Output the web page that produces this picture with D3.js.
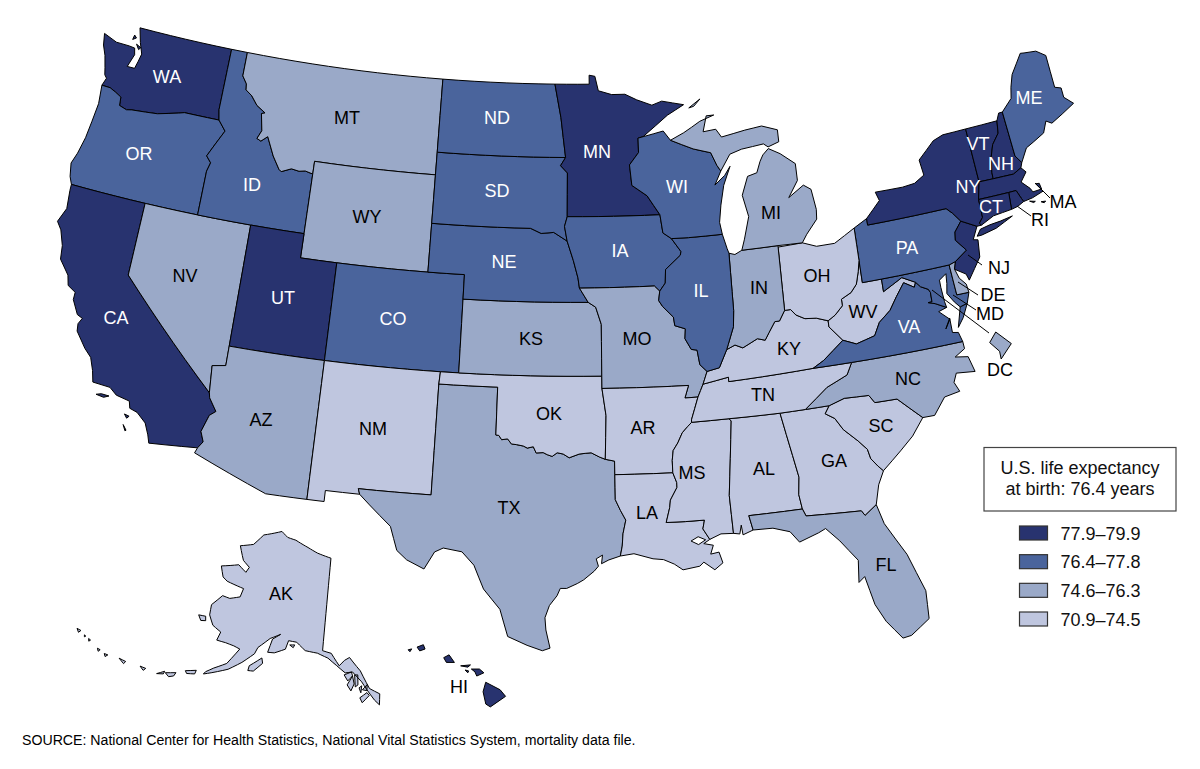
<!DOCTYPE html>
<html><head><meta charset="utf-8">
<script src="https://cdn.jsdelivr.net/npm/d3@7/dist/d3.min.js"></script>
<style>html,body{margin:0;padding:0;background:#fff}svg{display:block}text{font-family:"Liberation Sans",Arial,sans-serif}</style>
</head><body><svg id="c" width="1200" height="769"></svg>
<script>
const legendLabels=["77.9–79.9","76.4–77.8","74.6–76.3","70.9–74.5"];
const legendColors=["#28336f","#4a649c","#9aa9c8","#bfc6df"];
const class0=["WA","CA","UT","MN","NY","VT","NH","MA","CT","RI","NJ","HI"];
const class1=["OR","ID","CO","ND","SD","NE","IA","WI","IL","PA","VA","MD","ME"];
const class2=["MT","WY","NV","AZ","KS","MO","TX","IN","MI","NC","FL","DE","DC"];
const class3=["NM","OK","AR","LA","MS","AL","GA","SC","TN","KY","WV","OH","AK"];
const noteTitle=["U.S. life expectancy","at birth: 76.4 years"];
const sourceNote="SOURCE: National Center for Health Statistics, National Vital Statistics System, mortality data file.";

// shared borders, longitude,latitude
const rev=s=>s.split(" ").reverse().join(" ");
const idMt="-111.05,44.47 -111.5,44.55 -111.85,44.5 -112.3,44.55 -112.85,44.37 -113,44.45 -113.45,44.95 -113.95,45.7 -114.3,45.47 -114.55,45.55 -114.35,45.9 -114.55,46.6 -114.35,46.65 -114.9,46.9 -115.3,47.25 -115.7,47.45 -115.75,47.7 -116.05,48";
const red="-100,34.56 -99.85,34.55 -99.7,34.38 -99.4,34.42 -99.2,34.22 -98.95,34.2 -98.6,34.15 -98.4,34.07 -98.1,34.13 -97.95,33.88 -97.6,33.9 -97.4,33.82 -97.15,33.75 -96.9,33.9 -96.6,33.85 -96.3,33.7 -95.8,33.85 -95.5,33.88 -95.2,33.9 -94.8,33.73 -94.5,33.63";
const m1="-91.42,40.38 -91.5,40 -91.3,39.75 -90.75,39.3 -90.7,38.95 -90.15,38.8 -90.2,38.4 -89.9,37.95 -89.6,37.9 -89.5,37.3 -89.15,37";
const m2="-89.15,37 -89.3,36.7 -89.4,36.5 -89.55,36.25 -89.7,36";
const m3="-89.7,36 -89.9,35.55 -90.1,35.1 -90.1,35";
const m4="-90.1,35 -90.3,34.85 -90.6,34.6 -90.85,34.2 -91.1,33.9 -91.17,33.5 -91.17,33";
const m5="-91.17,33 -91,32.6 -91,32.4 -91.35,31.9 -91.4,31.6 -91.6,31";
const ohio="-82.6,38.42 -83.2,38.6 -83.8,38.65 -84.25,38.85 -84.5,39.1 -84.82,39.1 -85.15,38.7 -85.4,38.7 -85.75,38.3 -86,38 -86.4,38.1 -86.8,37.95 -87.2,37.8 -87.6,37.95 -88.05,37.8";
const ohioLow="-82.6,38.42 -82.2,38.6 -81.75,38.93 -81.75,39.2 -81.2,39.4 -80.85,39.7 -80.65,40.2 -80.52,40.64";
const potomac="-76.35,38.05 -76.9,38.3 -77.25,38.4 -77.05,38.4 -77.04,38.79 -77.12,38.93 -77.5,39.1 -77.72,39.32";
const savannah="-83.1,35 -83.35,34.7 -82.9,34.45 -82.55,33.95 -81.9,33.4 -81.5,33 -81.4,32.6 -81.1,32.25 -80.87,32.03";

// state outlines, longitude,latitude
const outlines={
WA:["-124.73,48.38 -123.9,48.16 -123.1,48.15 -122.75,48.12 -122.65,47.85 -122.9,47.3 -122.45,47.3 -122.35,47.6 -122.25,47.95 -122.5,48.4 -122.75,49 -117.03,49 -117.04,46.42 -116.92,46 -118.98,46 -119.3,45.93 -120.5,45.7 -121.2,45.65 -122,45.6 -122.3,45.55 -122.75,45.65 -122.8,46 -123.2,46.15 -123.55,46.26 -124.05,46.27 -123.9,46.6 -124.05,46.72 -124.15,47 -124.35,47.5 -124.6,47.9","-122.95,48.65 -122.8,48.55 -123,48.45","-122.7,48.3 -122.5,48.1 -122.4,48.2"],
OR:["-124.05,46.27 -123.55,46.26 -123.2,46.15 -122.8,46 -122.75,45.65 -122.3,45.55 -122,45.6 -121.2,45.65 -120.5,45.7 -119.3,45.93 -118.98,46 -116.92,46 -116.45,45.6 -116.85,45 -117.2,44.45 -116.9,44.2 -117.03,43.83 -117.03,42 -120,42 -124.21,42 -124.4,42.3 -124.55,42.84 -124.35,43.3 -124.15,44 -124.05,44.7 -123.95,45.5"],
CA:["-124.21,42 -120,42 -120,39 -114.63,35 -114.57,34.8 -114.14,34.3 -114.43,34.1 -114.7,33.4 -114.5,33 -114.72,32.72 -117.12,32.53 -117.25,32.85 -117.5,33.3 -118,33.65 -118.4,33.75 -118.5,34.03 -119.2,34.15 -119.6,34.4 -120.5,34.45 -120.65,34.9 -120.9,35.4 -121.3,35.7 -121.9,36.3 -121.95,36.6 -121.8,36.85 -122.1,36.95 -122.5,37.5 -122.5,37.8 -122.95,38 -123.1,38.4 -123.7,38.95 -123.8,39.5 -124.1,40.1 -124.4,40.4 -124.1,41 -124.2,41.75","-120.2,34 -119.95,34.07 -119.55,34.05 -119.8,33.95","-118.6,33.48 -118.35,33.43 -118.45,33.33","-118.55,33.05 -118.35,32.85 -118.4,32.82"],
NV:["-120,42 -117.03,42 -114.04,42 -114.05,37 -114.05,36.2 -114.74,36.1 -114.63,35 -120,39"],
ID:[`-117.03,42 -114.04,42 -111.05,42 ${idMt} -116.05,49 -117.03,49 -117.04,46.42 -116.92,46 -116.45,45.6 -116.85,45 -117.2,44.45 -116.9,44.2 -117.03,43.83`],
MT:[`-116.05,49 -104.05,49 -104.05,45.94 -104.05,45 -111.05,45 ${idMt}`],
WY:["-111.05,45 -104.05,45 -104.05,43 -104.05,41 -109.05,41 -111.05,41 -111.05,42 -111.05,44.47"],
UT:["-114.04,42 -111.05,42 -111.05,41 -109.05,41 -109.05,37 -114.05,37"],
CO:["-109.05,41 -104.05,41 -102.05,41 -102.05,40 -102.05,37 -103,37 -109.05,37"],
AZ:["-114.05,37 -109.05,37 -109.05,31.33 -111.07,31.33 -114.82,32.5 -114.72,32.72 -114.5,33 -114.7,33.4 -114.43,34.1 -114.14,34.3 -114.57,34.8 -114.63,35 -114.74,36.1 -114.05,36.2"],
NM:["-109.05,37 -103,37 -103.04,36.5 -103.05,32 -106.62,32 -106.53,31.78 -108.21,31.78 -108.21,31.33 -109.05,31.33"],
TX:[`-103.04,36.5 -100,36.5 ${red} -94.04,33.55 -94.04,33 -94.04,31.99 -93.8,31.55 -93.55,31.15 -93.7,30.6 -93.75,30.1 -93.85,29.7 -94.4,29.55 -94.75,29.4 -94.7,29.75 -95,29.6 -94.9,29.3 -95.1,29.1 -95.6,28.75 -95.9,28.6 -96.4,28.4 -96.7,28.4 -96.85,28.1 -97.2,27.7 -97.4,27.2 -97.35,26.7 -97.15,25.96 -97.5,25.85 -98.2,26.06 -99.1,26.4 -99.5,27.5 -100.3,28.3 -100.8,29.25 -101.4,29.77 -102.3,29.88 -102.7,29.7 -103.15,28.98 -104,29.3 -104.5,29.65 -104.9,30.6 -106,31.39 -106.53,31.78 -106.62,32 -103.05,32`],
OK:[`-103,37 -102.05,37 -94.62,37 -94.62,36.5 -94.43,35.4 ${rev(red)} -100,36.5 -103.04,36.5`],
KS:["-102.05,40 -95.3,40 -94.9,39.8 -94.61,39.1 -94.62,37 -102.05,37"],
NE:["-104.05,43 -98.5,43 -97.9,42.8 -97.2,42.85 -96.45,42.5 -96.1,41.7 -95.85,41 -95.77,40.58 -95.3,40 -102.05,40 -102.05,41 -104.05,41"],
SD:["-104.05,45.94 -96.56,45.94 -96.85,45.6 -96.45,45.3 -96.45,43.5 -96.6,43.1 -96.45,42.5 -97.2,42.85 -97.9,42.8 -98.5,43 -104.05,43"],
ND:["-104.05,49 -97.23,49 -96.85,47.6 -96.56,45.94 -104.05,45.94"],
MN:["-97.23,49 -95.15,49 -95.15,49.38 -94.8,49.33 -94.6,48.72 -93.8,48.55 -93,48.55 -92.3,48.3 -91.4,48.05 -90.8,48.2 -89.5,48 -90.5,47.6 -92,46.75 -92.3,46.7 -92.3,46.1 -92.85,45.6 -92.75,44.75 -91.9,44.3 -91.22,43.5 -96.45,43.5 -96.45,45.3 -96.85,45.6 -96.56,45.94 -96.85,47.6"],
IA:["-96.45,43.5 -91.22,43.5 -91.1,42.75 -90.64,42.5 -90.15,41.95 -90.2,41.8 -91.05,41.25 -91.1,40.7 -91.42,40.38 -91.7,40.6 -95.77,40.58 -95.85,41 -96.1,41.7 -96.45,42.5 -96.6,43.1"],
MO:[`-95.77,40.58 -91.7,40.6 ${m1} ${m2} -90.37,36 -90.15,36.5 -94.62,36.5 -94.62,37 -94.61,39.1 -94.9,39.8 -95.3,40`],
AR:[`-94.62,36.5 -90.15,36.5 -90.37,36 ${m3} ${m4} -94.04,33 -94.04,33.55 -94.5,33.63 -94.43,35.4`],
LA:[`-94.04,33 ${m5} -89.75,31 -89.85,30.65 -89.55,30.2 -89.85,30.05 -89.4,29.95 -89.55,29.6 -89.15,29.65 -89,29.2 -89.4,28.95 -89.9,29.3 -90.1,29.15 -90.9,29.05 -91.3,29.3 -91.8,29.5 -92.3,29.55 -93.2,29.78 -93.85,29.7 -93.75,30.1 -93.7,30.6 -93.55,31.15 -93.8,31.55 -94.04,31.99`],
MS:[`-90.1,35 -88.2,35 -88.1,34.9 -88.47,31.9 -88.4,30.35 -89,30.38 -89.55,30.2 -89.85,30.65 -89.75,31 ${rev(m5)} ${rev(m4)}`],
AL:["-88.2,35 -85.61,34.98 -85.2,33.2 -85,32.3 -85.1,31.6 -85,31 -87.6,31 -87.45,30.4 -87.95,30.25 -88,30.65 -88.1,30.3 -88.4,30.35 -88.47,31.9 -88.1,34.9"],
GA:[`-85.61,34.98 ${savannah} -81.2,31.5 -81.45,30.72 -82.05,30.36 -82.2,30.57 -84.86,30.7 -85,31 -85.1,31.6 -85,32.3 -85.2,33.2`],
FL:["-87.6,31 -85,31 -84.86,30.7 -82.2,30.57 -82.05,30.36 -81.45,30.72 -81.2,29.9 -80.35,28.5 -79.75,26.9 -79.8,25.75 -80.7,25.2 -81.1,25.15 -81.75,25.95 -82.15,26.7 -82.45,27.9 -82.75,27.7 -82.65,28.6 -83.4,29.5 -84,30.08 -84.35,29.95 -85.3,29.68 -85.7,30.15 -86.5,30.38 -87.45,30.4"],
SC:[`-82.3,35.2 -81.05,35.15 -80.8,34.82 -79.67,34.8 -78.55,33.86 -79.2,33.2 -79.9,32.7 ${rev(savannah)}`],
NC:["-84.32,34.99 -83.1,35 -82.3,35.2 -81.05,35.15 -80.8,34.82 -79.67,34.8 -78.55,33.86 -77.95,33.85 -77.3,34.5 -76.5,34.6 -76.7,35 -76.5,35.35 -75.55,35.25 -75.75,35.9 -76.4,36 -75.85,36.25 -75.87,36.55 -81.68,36.59 -82,36.12 -83.1,35.75"],
TN:[`-90.1,35 -88.2,35 -85.61,34.98 -84.32,34.99 -83.1,35.75 -82,36.12 -81.68,36.59 -83.68,36.6 -88.07,36.5 -88.07,36.68 -89.4,36.5 -89.55,36.25 -89.7,36 -89.9,35.55 -90.1,35.1`],
KY:[`-89.4,36.5 -88.07,36.68 -88.07,36.5 -83.68,36.6 -83.1,36.85 -81.97,37.54 -82.6,38.17 ${ohio} -88.5,37.1 -89.15,37 -89.3,36.7`],
WV:[`-81.97,37.54 -81.3,37.3 -80.3,37.5 -79.95,38 -79.3,38.4 -78.85,38.9 -78.35,39.4 -77.83,39.13 -77.72,39.32 -78.4,39.62 -79.48,39.2 -79.48,39.72 -80.52,39.72 ${rev(ohioLow)} -82.6,38.17`],
VA:[`-83.68,36.6 -81.68,36.59 -75.87,36.55 -76,36.95 -76.3,37 -76.3,37.6 -76.6,37.2 -76.3,37.55 -76.8,37.95 ${potomac} -77.83,39.13 -78.35,39.4 -78.85,38.9 -79.3,38.4 -79.95,38 -80.3,37.5 -81.3,37.3 -81.97,37.54 -83.1,36.85`,"-75.95,37.15 -75.6,37.5 -75.25,38.03 -75.65,37.95"],
MD:[`-79.48,39.72 -75.79,39.72 -75.7,38.46 -75.05,38.45 -75.25,38.03 -75.65,37.95 -75.9,38.2 -76.2,38.6 -76.1,39 -76.05,39.4 -76.45,39.2 -76.45,38.9 -76.4,38.3 ${potomac} -78.4,39.62 -79.48,39.2`],
DE:["-75.79,39.72 -75.42,39.8 -75.55,39.5 -75.4,39.1 -75.1,38.8 -75.05,38.45 -75.7,38.46"],
PA:["-80.52,41.98 -79.76,42.27 -79.76,42 -75.35,42 -75.05,41.75 -74.7,41.36 -75.13,40.98 -75.2,40.65 -74.72,40.15 -75.42,39.8 -75.79,39.72 -79.48,39.72 -80.52,39.72 -80.52,40.64"],
NJ:["-74.7,41.36 -73.9,41 -74.25,40.5 -74,40.45 -74.1,39.75 -74.9,38.93 -75,39.2 -75.55,39.5 -75.42,39.8 -74.72,40.15 -75.2,40.65 -75.13,40.98"],
NY:["-79.76,42.27 -79.76,42 -75.35,42 -75.05,41.75 -74.7,41.36 -73.9,41 -73.65,41 -73.73,41.1 -73.5,41.3 -73.5,42.05 -73.26,42.75 -73.35,45.01 -74.7,45 -75.3,44.85 -76.3,44.2 -76.2,43.55 -76.8,43.3 -77.5,43.25 -79.05,43.27 -78.9,42.9","-74,40.6 -73.75,40.6 -72.9,40.73 -71.9,41.05 -72.6,40.97 -73.2,40.93 -73.75,40.85"],
VT:["-73.35,45.01 -71.5,45.01 -71.6,44.5 -72.05,44.1 -72.3,43.6 -72.45,43 -72.46,42.73 -73.26,42.75"],
NH:["-71.5,45.01 -71.3,45.3 -71.08,45.3 -70.98,43.4 -70.7,43.07 -70.82,42.87 -71.3,42.7 -72.46,42.73 -72.45,43 -72.3,43.6 -72.05,44.1 -71.6,44.5"],
ME:["-71.08,45.3 -70.4,45.75 -70.25,46.2 -70,46.7 -69.22,47.46 -69,47.43 -68.3,47.36 -67.8,47.07 -67.8,45.7 -67.45,45.6 -67.45,45.2 -67,44.85 -67.8,44.55 -68.5,44.3 -68.8,44.45 -69.1,44 -69.8,43.75 -70.25,43.6 -70.7,43.07 -70.98,43.4"],
MA:["-73.5,42.05 -73.26,42.75 -72.46,42.73 -71.3,42.7 -70.82,42.87 -70.6,42.65 -71,42.3 -70.6,41.95 -70.5,41.78 -70,41.8 -70.05,42.05 -70.25,42.07 -69.95,41.7 -70.6,41.55 -71.12,41.5 -71.2,41.65 -71.38,42.02 -71.8,42.02","-70.8,41.45 -70.5,41.38 -70.6,41.35","-70.2,41.3 -69.95,41.28 -70.05,41.23"],
RI:["-71.8,42.02 -71.38,42.02 -71.2,41.65 -71.12,41.5 -71.5,41.37 -71.86,41.32"],
CT:["-73.5,42.05 -71.8,42.02 -71.86,41.32 -72.9,41.25 -73.65,41 -73.73,41.1 -73.5,41.3"],
OH:[`-84.82,39.1 -84.5,39.1 -84.25,38.85 -83.8,38.65 -83.2,38.6 ${ohioLow} -80.52,41.98 -81.7,41.5 -82.7,41.5 -83.45,41.73 -84.8,41.7`],
IN:["-84.8,41.7 -84.8,41.76 -86.8,41.76 -87.2,41.62 -87.52,41.7 -87.52,39.35 -87.6,38.7 -87.95,38 -88.05,37.8 -87.6,37.95 -87.2,37.8 -86.8,37.95 -86.4,38.1 -86,38 -85.75,38.3 -85.4,38.7 -85.15,38.7 -84.82,39.1"],
IL:[`-90.64,42.5 -87.8,42.5 -87.6,41.9 -87.52,41.7 -87.52,39.35 -87.6,38.7 -87.95,38 -88.05,37.8 -88.5,37.1 ${rev(m1)} -91.1,40.7 -91.05,41.25 -90.2,41.8 -90.15,41.95`],
WI:["-92.3,46.7 -92,46.75 -90.8,46.95 -90.4,46.55 -89.1,46.13 -88.1,45.9 -87.8,45.35 -87.6,45.1 -88,44.55 -87.4,44.9 -87.05,45.25 -87.5,44.5 -87.75,43.7 -87.9,43 -87.8,42.5 -90.64,42.5 -91.1,42.75 -91.22,43.5 -91.9,44.3 -92.75,44.75 -92.85,45.6 -92.3,46.1"],
MI:["-90.4,46.55 -89.1,46.13 -88.1,45.9 -87.8,45.35 -87.6,45.1 -87,45.75 -86.3,45.9 -85,46 -84.75,45.85 -84.1,46 -84.1,46.5 -85,46.75 -86,46.67 -87.4,46.5 -87.7,46.85 -88.45,46.8 -88.2,47.45 -87.75,47.45 -88.6,47.25 -89.6,46.83","-86.8,41.76 -84.8,41.76 -83.45,41.73 -83.15,42.05 -82.5,42.6 -82.45,43 -82.6,43.85 -83,44.07 -83.9,43.65 -83.3,44.3 -83.3,45 -84.1,45.5 -84.75,45.78 -85.1,45.55 -85.3,45.3 -85.55,44.85 -86.1,44.75 -86.5,44 -86.25,43.1 -86.6,42.2","-89.2,47.85 -88.5,48.18 -88.9,47.9"],
DC:["-77.12,38.93 -77.04,39 -76.91,38.89 -77.04,38.79 -77.04,38.85"],
AK:["-156.8,71.3 -154.6,70.9 -152,70.85 -148,70.4 -145,70 -141,69.65 -141,60.3 -139.2,60.1 -137.5,58.9 -136.5,59.45 -135.5,59.75 -133.4,58.4 -131.8,56.6 -130,56 -130.2,54.9 -131,55.4 -132.3,56.5 -133.2,57.3 -134.9,58.3 -136.3,58.2 -138,58.9 -139.8,59.6 -142,60 -144.5,60.1 -146.5,60.8 -148.2,60.8 -148.5,59.9 -150.5,59.3 -151.8,59.2 -151.5,60.6 -150.1,61.25 -152,60.6 -152.8,60.1 -153.9,59.4 -154.2,58.7 -156,57.5 -158,56.4 -160.5,55.5 -161.8,55.05 -161.6,55.35 -160.5,56 -158.6,56.9 -157.2,58.7 -158.5,58.8 -160.2,58.8 -162,58.7 -161.9,59.6 -163.9,59.9 -165.4,60.7 -166,61.7 -164.7,63 -163,63.05 -161,63.6 -161,64.5 -162.6,64.5 -165.2,64.5 -166.5,64.7 -168.1,65.6 -164.4,66.5 -162,66.1 -161.7,66.7 -163.8,67.1 -166.2,68.3 -163.1,69 -161.5,70.3",
"-154.5,57.4 -152.6,58.5 -152.2,58 -153.5,57 -154.5,56.9","-167.4,60.2 -166,60.4 -165.6,60 -166.5,59.8","-164.9,54.6 -163.2,55.1 -163.2,54.7 -164.5,54.4","-167.8,53.5 -166.2,54 -166.3,53.6 -167,53.3","-169,53 -168,53.6 -168,53.3","-172,52.8 -171,52.9 -171.2,52.6","-175.6,52.3 -174.4,52.4 -174.5,52.1","-178,51.8 -177.4,51.9 -177.6,51.6","-179.4,51.8 -178.9,51.85 -179,51.6","-181.5,52 -181.1,52 -181.2,51.8","-182.4,52 -182.1,52 -182.2,51.85","-184,52 -183.3,52.1 -183.4,51.8","-133.2,55.2 -131.9,55.9 -132.3,56.2 -133.6,55.7","-135.9,57 -134.9,57.9 -134.6,57.1 -135.2,56.4","-136.5,58 -135.1,58.3 -134.9,57.9 -135.8,57.4","-134.5,58 -133.9,58 -133.9,57 -134.4,56.8","-133.1,56.5 -132.2,57 -132.3,56.4","-133.7,56.7 -133.2,56.9 -133.4,56.2","-147.8,60.4 -146.8,60.5 -147,60.2"],
HI:["-155.9,20.25 -155.1,19.85 -154.8,19.5 -155.65,18.95 -155.9,19.1 -156.05,19.75","-156.7,20.95 -156.25,20.95 -156,20.75 -156.4,20.58 -156.5,20.8","-157.05,20.9 -156.85,20.85 -156.9,20.75","-157.3,21.12 -156.75,21.17 -156.9,21.05","-158.25,21.55 -157.95,21.7 -157.65,21.3 -158.1,21.3","-159.75,22.1 -159.4,22.23 -159.3,22 -159.6,21.9","-160.25,21.95 -160.05,22 -160.15,21.85"]
};
const lakes=["-90.45,30.2 -90.1,30.35 -89.75,30.2 -90.1,30.03"];

const stateCodes=Object.keys(outlines);
const stateClass=Object.fromEntries([class0,class1,class2,class3].flatMap((c,i)=>c.map(s=>[s,i])));

// state label placement on the page
const labelAt={WA:[167,76],OR:[139,153],CA:[116,317],NV:[185,275],ID:[252,184],MT:[347,117],WY:[367,216],UT:[283,297],AZ:[261,419],CO:[393,318],NM:[373,428],ND:[497,117],SD:[497,190],NE:[504,261],KS:[531,338],OK:[549,413],TX:[509,507],MN:[597,151],IA:[620,250],MO:[637,338],AR:[643,427],LA:[647,512],WI:[677,186],IL:[701,290],MS:[692,472],AL:[764,468],TN:[763,394],KY:[789,348],IN:[759,287],OH:[817,275],MI:[771,212],GA:[834,460],FL:[886,564],SC:[881,425],NC:[908,378],VA:[909,326],WV:[863,311],PA:[907,247],NY:[968,186],NJ:[999,267],DE:[993,294],MD:[990,313],DC:[1000,369],ME:[1029,97],VT:[978,143],NH:[1001,163],CT:[991,206],MA:[1063,201],RI:[1040,219],AK:[281,593],HI:[459,686]};
const outsideLabel=new Set(["NJ","DE","MD","DC","MA","RI"]);
const leaders=[[968,255,982,265],[1035,183,1050,198],[1017,206,1031,216],[958,282,978,295],[953,295,976,310],[932,290,989,333]];

const lower48Base=d3.geoConicEqualArea().rotate([96,0]).center([0,37]).parallels([25,43]).scale(1398).translate([575.2,376.3]);
// the reference's eastern half sits slightly higher than a plain conic
const lower48=p=>{const q=lower48Base(p);return [q[0],q[1]-Math.min(10.5,Math.max(0,q[0]-690)*0.03)];};
const alaska=d3.geoConicEqualArea().rotate([135,0]).center([0,60.3]).parallels([55,65]).scale(570).translate([352,652]);
const hawaii=d3.geoConicEqualArea().rotate([157,0]).center([0,20.9]).parallels([8,18]).scale(1090).translate([466,670]);
const dcInset=d3.geoAlbers().rotate([96,0]).parallels([29.5,45.5]);

const projFor=s=>s==="AK"?alaska:s==="HI"?hawaii:s==="DC"?dcInset:lower48;
const densify=ring=>{
  const out=[];
  ring.forEach((p,i)=>{
    const q=ring[(i+1)%ring.length];
    const n=Math.max(1,Math.ceil(Math.hypot(q[0]-p[0],q[1]-p[1])));
    for(let k=0;k<n;k++)out.push([p[0]+(q[0]-p[0])*k/n,p[1]+(q[1]-p[1])*k/n]);
  });
  out.push(out[0]);return out;
};
const parse=r=>r.split(" ").map(t=>t.split(",").map(Number));
const features=stateCodes.map(s=>({type:"Feature",id:s,geometry:{type:"MultiPolygon",coordinates:outlines[s].map(r=>[densify(parse(r))])}}));
const lakeFeatures=lakes.map(r=>({type:"Feature",id:"lake",geometry:{type:"Polygon",coordinates:[densify(parse(r))]}}));
dcInset.fitExtent([[988,332],[1013,359]],features.find(f=>f.id==="DC"));
const pathOf=s=>{
  const pr=projFor(s);
  return d3.geoPath(d3.geoTransform({point(x,y){const p=pr([x,y]);this.stream.point(p[0],p[1]);}}));
};
const color=d3.scaleOrdinal().domain([0,1,2,3]).range(legendColors);
const svg=d3.select("#c");
svg.append("g").selectAll("path").data(features).join("path")
  .attr("d",d=>pathOf(d.id)(d))
  .attr("fill",d=>color(stateClass[d.id]))
  .attr("stroke","#000").attr("stroke-width",1).attr("stroke-linejoin","round");
svg.append("g").selectAll("path").data(lakeFeatures).join("path")
  .attr("d",d=>pathOf("LA")(d)).attr("fill","#fff").attr("stroke","#000").attr("stroke-width",1);
svg.append("g").selectAll("line").data(leaders).join("line")
  .attr("x1",d=>d[0]).attr("y1",d=>d[1]).attr("x2",d=>d[2]).attr("y2",d=>d[3])
  .attr("stroke","#000").attr("stroke-width",1);
svg.append("g").selectAll("text").data(stateCodes).join("text")
  .attr("x",d=>labelAt[d][0]).attr("y",d=>labelAt[d][1]+6.5)
  .attr("text-anchor","middle").attr("font-size",18)
  .attr("fill",d=>(stateClass[d]<2&&!outsideLabel.has(d)&&d!=="HI")?"#fff":"#000")
  .text(d=>d);
svg.append("rect").attr("x",984).attr("y",447.5).attr("width",192).attr("height",63.5)
  .attr("fill","#fff").attr("stroke","#444").attr("stroke-width",1.2);
svg.append("g").selectAll("text").data(noteTitle).join("text")
  .attr("x",1080).attr("y",(d,i)=>474+i*21).attr("text-anchor","middle").attr("font-size",18).attr("fill","#111").text(d=>d);
const legendY=d3.scalePoint().domain(legendLabels).range([526,612]);
const lg=svg.append("g").selectAll("g").data(legendLabels).join("g").attr("transform",d=>`translate(1019.5,${legendY(d)})`);
lg.append("rect").attr("width",28).attr("height",14).attr("fill",(d,i)=>legendColors[i]).attr("stroke","#333").attr("stroke-width",1.2);
lg.append("text").attr("x",41).attr("y",13.5).attr("font-size",18).attr("fill","#111").text(d=>d);
svg.append("text").attr("x",22).attr("y",745).attr("font-size",14.15).attr("fill","#000").text(sourceNote);
</script></body></html>
